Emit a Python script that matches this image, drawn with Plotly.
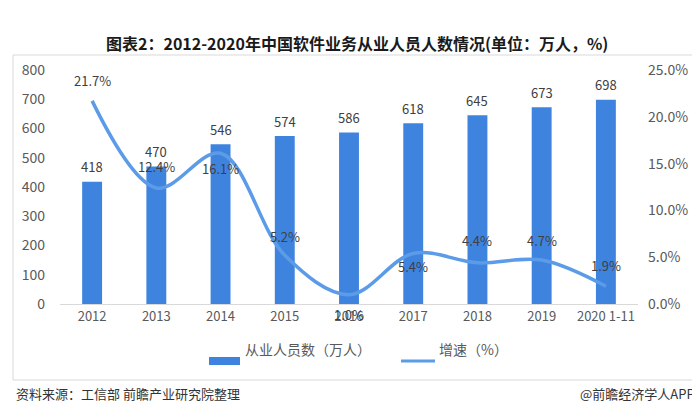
import plotly.graph_objects as go

categories = ["2012", "2013", "2014", "2015", "2016", "2017", "2018", "2019", "2020 1-11"]
employees = [418, 470, 546, 574, 586, 618, 645, 673, 698]
growth = [21.7, 12.4, 16.1, 5.2, 1.0, 5.4, 4.4, 4.7, 1.9]
growth_label_shift = [20, 21, -15, 19, -20, -13, 22, 20, 21]
legend_names = ["从业人员数（万人）", "增速（%）"]

BAR = "#3e84df"
LINE = "#5b9be8"
FONT = "Noto Sans CJK SC"

# pixel -> paper helpers (plot area: x 52..630, y 62..296)
L, R, T, B = 52, 630, 62, 296
def px(x):
    return (x - L) / (R - L)
def py(y):
    return (B - y) / (B - T)

fig = go.Figure()
fig.add_trace(go.Bar(
    x=categories, y=employees, name=legend_names[0],
    marker=dict(color=BAR, line=dict(width=0)), width=0.31,
    showlegend=False,
))
fig.add_trace(go.Scatter(
    x=categories, y=growth, name=legend_names[1], yaxis="y2",
    mode="lines", line=dict(color=LINE, width=3.5, shape="spline", smoothing=1.0),
    showlegend=False,
))

annotations = []
for i, v in enumerate(employees):
    annotations.append(dict(
        x=i, y=v, xref="x", yref="y", text=str(v), showarrow=False,
        yshift=15, font=dict(size=13, color="#404040", family=FONT),
    ))
for i, (g, s) in enumerate(zip(growth, growth_label_shift)):
    annotations.append(dict(
        x=i, y=g, xref="x", yref="y2", text=f"{g:.1f}%", showarrow=False,
        yshift=s, font=dict(size=13, color="#404040", family=FONT),
    ))
annotations += [
    dict(text="<b>图表2：2012-2020年中国软件业务从业人员人数情况(单位：万人，%)</b>",
         xref="paper", yref="paper", x=px(349), y=py(21),
         showarrow=False, font=dict(size=16, color="#1a1a1a", family=FONT)),
    dict(text="资料来源：工信部 前瞻产业研究院整理", xref="paper", yref="paper",
         x=px(6), y=py(397), xanchor="left", showarrow=False,
         font=dict(size=13, color="#333333", family=FONT)),
    dict(text="@前瞻经济学人APP", xref="paper", yref="paper",
         x=px(689), y=py(397), xanchor="right", showarrow=False,
         font=dict(size=13, color="#333333", family=FONT)),
    dict(text=legend_names[0], xref="paper", yref="paper",
         x=px(235), y=py(353), xanchor="left", showarrow=False,
         font=dict(size=14, color="#595959", family=FONT)),
    dict(text=legend_names[1], xref="paper", yref="paper",
         x=px(429), y=py(353), xanchor="left", showarrow=False,
         font=dict(size=14, color="#595959", family=FONT)),
]

shapes = [
    dict(type="rect", xref="paper", yref="paper", x0=px(5), x1=px(695),
         y0=py(372), y1=py(47), line=dict(color="#d9d9d9", width=1), layer="below"),
    dict(type="rect", xref="paper", yref="paper", x0=px(201), x1=px(232),
         y0=py(357), y1=py(349), line=dict(width=0), fillcolor=BAR),
    dict(type="line", xref="paper", yref="paper", x0=px(393), x1=px(427),
         y0=py(353), y1=py(353), line=dict(color=LINE, width=3)),
]

fig.update_layout(
    width=700, height=418,
    margin=dict(l=L, r=700 - R, t=T, b=418 - B),
    paper_bgcolor="white", plot_bgcolor="white",
    font=dict(family=FONT, color="#595959", size=13),
    showlegend=False,
    xaxis=dict(type="category", range=[-0.5, len(categories) - 0.5],
               showline=True, linecolor="#d9d9d9", linewidth=1,
               ticks="", showgrid=False, tickfont=dict(size=13, color="#595959"),
               ticklabelstandoff=0),
    yaxis=dict(range=[0, 800], dtick=100, showgrid=False, zeroline=False, ticks="",
               tickfont=dict(size=14, color="#595959"), ticklabelstandoff=14),
    yaxis2=dict(range=[0, 25], dtick=5, overlaying="y", side="right", showgrid=False,
                zeroline=False, ticks="", tickformat=".1f", ticksuffix="%",
                tickfont=dict(size=14, color="#595959"), ticklabelstandoff=9),
    annotations=annotations,
    shapes=shapes,
)

fig.write_html("out.html")
